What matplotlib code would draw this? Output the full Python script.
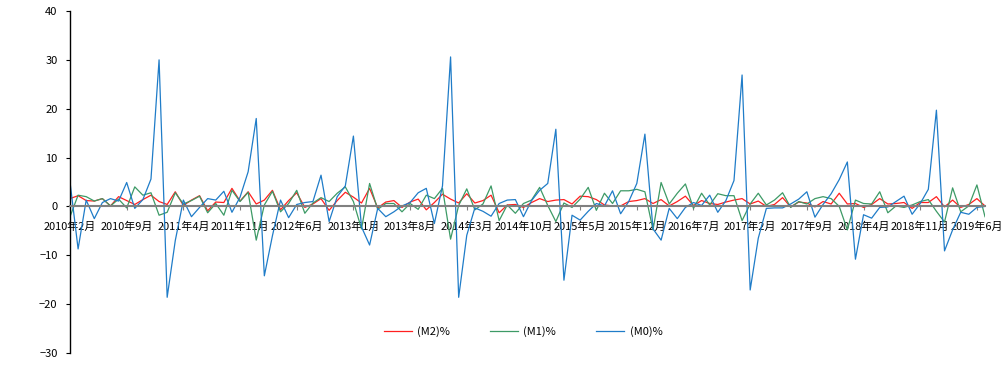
import matplotlib
matplotlib.use("Agg")
import matplotlib.pyplot as plt

plt.rcParams['font.family'] = ['Noto Sans CJK SC', 'DejaVu Sans']

# month-on-month growth, 2010-02 .. 2019-07
m2 = [1.6, 2.2, 1.2, 1.1, 1.6, 0.1, 2.0, 1.2, 0.4, 1.4,
      2.3, 1.0, 0.4, 3.0, 0.2, 1.3, 2.2, -0.9, 0.9, 0.8,
      3.7, 1.1, 3.0, 0.5, 1.3, 3.3, -0.7, 1.2, 2.8, -0.2,
      0.5, 1.6, -0.8, 1.2, 2.9, 1.9, 0.7, 3.7, -0.3, 0.9,
      1.2, -0.2, 0.9, 1.5, -0.7, 0.8, 2.5, 1.5, 0.7, 2.6,
      0.7, 1.2, 2.3, -1.3, 0.3, 0.4, -0.2, 0.8, 1.6, 1.0,
      1.3, 1.4, 0.5, 2.1, 2.0, 1.4, 0.3, 0.1, 0.1, 1.0,
      1.2, 1.6, 0.6, 1.4, 0.1, 1.0, 2.1, 0.2, 1.2, 0.6,
      0.4, 0.9, 1.3, 1.6, 0.5, 1.1, 0.0, 0.4, 1.8, -0.1,
      0.9, 0.7, -0.1, 1.0, 0.5, 2.7, 0.5, 0.6, -0.2, 0.4,
      1.6, 0.5, 0.6, 0.8, -0.4, 0.8, 0.8, 2.0, -0.1, 1.3,
      -0.2, 0.4, 1.6, 0.1]

m1 = [-2.1, 2.3, 2.0, 1.1, 1.6, 0.1, 1.5, -0.3, 4.0, 2.3,
      2.8, -1.8, -1.2, 2.8, 0.5, 1.2, 2.1, -1.3, 0.6, -1.8,
      3.3, 1.0, 2.9, -6.9, 0.3, 3.1, -1.1, 0.6, 3.3, -1.4,
      0.7, 1.8, 1.0, 2.7, 4.0, 1.0, -4.6, 4.7, -0.6, 0.6,
      0.6, -1.1, 0.6, -0.6, 2.3, 1.6, 3.7, -6.7, 0.2, 3.6,
      -0.7, 0.5, 4.2, -2.9, 0.3, -1.4, 0.6, 1.3, 3.9, 0.2,
      -3.1, 0.7, -0.2, 1.5, 3.9, -0.8, 2.7, 0.6, 3.2, 3.2,
      3.5, 3.0, -4.8, 4.9, 0.5, 2.7, 4.6, -0.4, 2.7, 0.3,
      2.6, 2.2, 2.2, -2.9, 0.5, 2.7, 0.3, 1.3, 2.8, -0.2,
      1.0, 0.5, 1.6, 2.0, 1.6, 0.0, -4.8, 1.3, 0.6, 0.5,
      3.0, -1.3, 0.1, -0.2, 0.3, 1.0, 1.4, -1.0, -3.2, 3.8,
      -1.1, 0.1, 4.4, -2.1]

m0 = [5.0, -8.7, 1.3, -2.5, 0.8, 1.6, 1.1, 4.9, -0.4, 1.4,
      5.6, 30.0, -18.6, -7.0, 1.3, -2.1, -0.2, 1.6, 1.3, 3.1,
      -1.2, 1.9, 7.1, 18.0, -14.2, -6.0, 1.3, -2.3, 0.4, 0.8,
      1.0, 6.4, -3.1, 2.0, 4.2, 14.4, -4.2, -7.9, -0.4, -2.1,
      -1.1, 0.1, 0.8, 2.8, 3.7, -3.5, 4.2, 30.6, -18.6, -5.9,
      -0.3, -1.0, -2.0, 0.6, 1.3, 1.4, -2.1, 1.2, 3.3, 4.7,
      15.8, -15.1, -1.8, -2.8, -1.0, 0.6, 0.1, 3.2, -1.5, 1.0,
      4.7, 14.8, -4.6, -6.9, -0.4, -2.5, -0.2, 0.8, 0.2, 2.3,
      -1.2, 1.2, 5.3, 26.9, -17.1, -6.5, -0.4, -0.3, -0.3, 0.5,
      1.5, 3.0, -2.2, 0.4, 2.6, 5.5, 9.1, -10.8, -1.7, -2.4,
      -0.2, -0.1, 1.0, 2.1, -1.6, 0.6, 3.5, 19.7, -9.1, -4.8,
      -1.2, -1.6, -0.2, 0.0]

tick_labels = ['2010年2月', '2010年9月', '2011年4月', '2011年11月', '2012年6月',
               '2013年1月', '2013年8月', '2014年3月', '2014年10月', '2015年5月',
               '2015年12月', '2016年7月', '2017年2月', '2017年9月', '2018年4月',
               '2018年11月', '2019年6月']

x = list(range(len(m2)))

fig = plt.figure(figsize=(10.06, 3.82), dpi=100)
ax = fig.add_axes([70 / 1006, 29 / 382, 915 / 1006, 342 / 382])

l2, = ax.plot(x, m2, color='#ff2020', lw=0.9, label='(M2)%')
l1, = ax.plot(x, m1, color='#3d9a66', lw=0.9, label='(M1)%')
l0, = ax.plot(x, m0, color='#1f7cc8', lw=0.9, label='(M0)%')

ax.set_xlim(0, len(m2) - 1)
ax.set_ylim(-30, 40)
ax.set_yticks(range(-30, 41, 10))

ax.spines['top'].set_visible(False)
ax.spines['right'].set_visible(False)
ax.spines['left'].set_color('black')
ax.spines['left'].set_linewidth(1.0)
ax.spines['bottom'].set_position(('data', 0))
ax.spines['bottom'].set_color('#808080')
ax.spines['bottom'].set_linewidth(1.5)

ax.set_xticks(range(0, len(m2), 7))
ax.set_xticklabels(tick_labels)
ax.tick_params(axis='x', direction='out', length=3, color='#808080',
               labelsize=7.9, pad=8, labelcolor='black')
ax.tick_params(axis='y', direction='out', length=3, color='black',
               labelsize=8, pad=6)

fig.legend(handles=[l2, l1, l0], loc='center', bbox_to_anchor=(0.52, 0.133),
           ncol=3, frameon=False, fontsize=8, handlelength=2.5,
           handletextpad=0.5, columnspacing=3.6)

fig.savefig('out.png', dpi=100)
